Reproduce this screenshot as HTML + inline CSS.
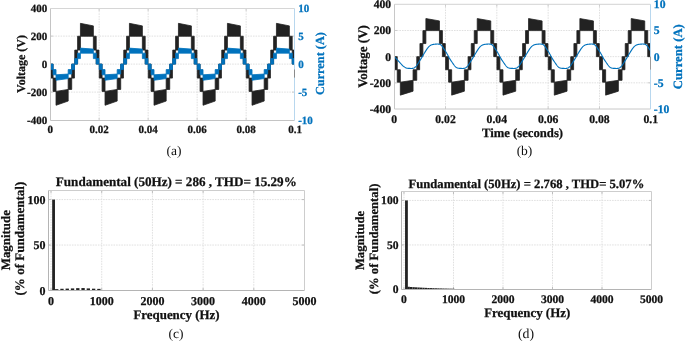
<!DOCTYPE html>
<html><head><meta charset="utf-8"><title>Figure</title>
<style>html,body{margin:0;padding:0;background:#fff;width:685px;height:342px;overflow:hidden;position:relative;font-family:"Liberation Serif",serif}</style>
</head><body>
<svg width="685" height="342" viewBox="0 0 685 342" style="position:absolute;left:0;top:0;will-change:transform;text-rendering:geometricPrecision">
<rect width="100%" height="100%" fill="#fff"/>
<g stroke="#e0e0e0" stroke-width="1" stroke-dasharray="1.6,1.0"><line x1="99.15" y1="8.1" x2="99.15" y2="120.1"/><line x1="148.15" y1="8.1" x2="148.15" y2="120.1"/><line x1="197.15" y1="8.1" x2="197.15" y2="120.1"/><line x1="246.15" y1="8.1" x2="246.15" y2="120.1"/><line x1="50.15" y1="92.1" x2="295.15" y2="92.1"/><line x1="50.15" y1="64.1" x2="295.15" y2="64.1"/><line x1="50.15" y1="36.1" x2="295.15" y2="36.1"/></g>
<path d="M99.15 120.5V118M99.15 8.5V11M148.15 120.5V118M148.15 8.5V11M197.15 120.5V118M197.15 8.5V11M246.15 120.5V118M246.15 8.5V11M50.5 92.1H53M294.5 92.1H292M50.5 64.1H53M294.5 64.1H292M50.5 36.1H53M294.5 36.1H292" stroke="#cdcdcd" stroke-width="1" fill="none"/>
<clipPath id="ca"><rect x="50.5" y="0" width="244" height="130"/></clipPath><g clip-path="url(#ca)">
<polygon points="44.37,50.1 47.21,50.1 47.21,36.24 44.37,36.24" fill="#222222" stroke="#222222" stroke-width="0.8"/>
<polygon points="47.21,64.1 49.95,64.1 49.95,50.1 47.21,50.1" fill="#222222" stroke="#222222" stroke-width="0.8"/>
<polygon points="74.75,64.1 77.59,64.1 77.59,50.1 74.75,50.1" fill="#222222" stroke="#222222" stroke-width="0.8"/>
<polygon points="77.59,50.1 80.43,50.1 80.43,36.24 77.59,36.24" fill="#222222" stroke="#222222" stroke-width="0.8"/>
<polygon points="80.43,36.24 93.37,36.24 93.37,25.88 80.43,23.36" fill="#222222" stroke="#222222" stroke-width="0.8"/>
<polygon points="93.37,50.1 96.21,50.1 96.21,36.24 93.37,36.24" fill="#222222" stroke="#222222" stroke-width="0.8"/>
<polygon points="96.21,64.1 98.95,64.1 98.95,50.1 96.21,50.1" fill="#222222" stroke="#222222" stroke-width="0.8"/>
<polygon points="50.25,64.1 53.09,64.1 53.09,78.1 50.25,78.1" fill="#222222" stroke="#222222" stroke-width="0.8"/>
<polygon points="53.09,78.1 56.03,78.1 56.03,91.4 53.09,91.4" fill="#222222" stroke="#222222" stroke-width="0.8"/>
<polygon points="56.03,91.4 68.18,89.44 68.18,101.06 56.03,105.26" fill="#222222" stroke="#222222" stroke-width="0.8"/>
<polygon points="68.18,78.1 71.71,78.1 71.71,89.44 68.18,89.44" fill="#222222" stroke="#222222" stroke-width="0.8"/>
<polygon points="71.71,64.1 74.45,64.1 74.45,78.1 71.71,78.1" fill="#222222" stroke="#222222" stroke-width="0.8"/>
<polygon points="123.75,64.1 126.59,64.1 126.59,50.1 123.75,50.1" fill="#222222" stroke="#222222" stroke-width="0.8"/>
<polygon points="126.59,50.1 129.43,50.1 129.43,36.24 126.59,36.24" fill="#222222" stroke="#222222" stroke-width="0.8"/>
<polygon points="129.43,36.24 142.37,36.24 142.37,25.88 129.43,23.36" fill="#222222" stroke="#222222" stroke-width="0.8"/>
<polygon points="142.37,50.1 145.21,50.1 145.21,36.24 142.37,36.24" fill="#222222" stroke="#222222" stroke-width="0.8"/>
<polygon points="145.21,64.1 147.95,64.1 147.95,50.1 145.21,50.1" fill="#222222" stroke="#222222" stroke-width="0.8"/>
<polygon points="99.25,64.1 102.09,64.1 102.09,78.1 99.25,78.1" fill="#222222" stroke="#222222" stroke-width="0.8"/>
<polygon points="102.09,78.1 105.03,78.1 105.03,91.4 102.09,91.4" fill="#222222" stroke="#222222" stroke-width="0.8"/>
<polygon points="105.03,91.4 117.18,89.44 117.18,101.06 105.03,105.26" fill="#222222" stroke="#222222" stroke-width="0.8"/>
<polygon points="117.18,78.1 120.71,78.1 120.71,89.44 117.18,89.44" fill="#222222" stroke="#222222" stroke-width="0.8"/>
<polygon points="120.71,64.1 123.45,64.1 123.45,78.1 120.71,78.1" fill="#222222" stroke="#222222" stroke-width="0.8"/>
<polygon points="172.75,64.1 175.59,64.1 175.59,50.1 172.75,50.1" fill="#222222" stroke="#222222" stroke-width="0.8"/>
<polygon points="175.59,50.1 178.43,50.1 178.43,36.24 175.59,36.24" fill="#222222" stroke="#222222" stroke-width="0.8"/>
<polygon points="178.43,36.24 191.37,36.24 191.37,25.88 178.43,23.36" fill="#222222" stroke="#222222" stroke-width="0.8"/>
<polygon points="191.37,50.1 194.21,50.1 194.21,36.24 191.37,36.24" fill="#222222" stroke="#222222" stroke-width="0.8"/>
<polygon points="194.21,64.1 196.95,64.1 196.95,50.1 194.21,50.1" fill="#222222" stroke="#222222" stroke-width="0.8"/>
<polygon points="148.25,64.1 151.09,64.1 151.09,78.1 148.25,78.1" fill="#222222" stroke="#222222" stroke-width="0.8"/>
<polygon points="151.09,78.1 154.03,78.1 154.03,91.4 151.09,91.4" fill="#222222" stroke="#222222" stroke-width="0.8"/>
<polygon points="154.03,91.4 166.18,89.44 166.18,101.06 154.03,105.26" fill="#222222" stroke="#222222" stroke-width="0.8"/>
<polygon points="166.18,78.1 169.71,78.1 169.71,89.44 166.18,89.44" fill="#222222" stroke="#222222" stroke-width="0.8"/>
<polygon points="169.71,64.1 172.45,64.1 172.45,78.1 169.71,78.1" fill="#222222" stroke="#222222" stroke-width="0.8"/>
<polygon points="221.75,64.1 224.59,64.1 224.59,50.1 221.75,50.1" fill="#222222" stroke="#222222" stroke-width="0.8"/>
<polygon points="224.59,50.1 227.43,50.1 227.43,36.24 224.59,36.24" fill="#222222" stroke="#222222" stroke-width="0.8"/>
<polygon points="227.43,36.24 240.37,36.24 240.37,25.88 227.43,23.36" fill="#222222" stroke="#222222" stroke-width="0.8"/>
<polygon points="240.37,50.1 243.21,50.1 243.21,36.24 240.37,36.24" fill="#222222" stroke="#222222" stroke-width="0.8"/>
<polygon points="243.21,64.1 245.95,64.1 245.95,50.1 243.21,50.1" fill="#222222" stroke="#222222" stroke-width="0.8"/>
<polygon points="197.25,64.1 200.09,64.1 200.09,78.1 197.25,78.1" fill="#222222" stroke="#222222" stroke-width="0.8"/>
<polygon points="200.09,78.1 203.03,78.1 203.03,91.4 200.09,91.4" fill="#222222" stroke="#222222" stroke-width="0.8"/>
<polygon points="203.03,91.4 215.18,89.44 215.18,101.06 203.03,105.26" fill="#222222" stroke="#222222" stroke-width="0.8"/>
<polygon points="215.18,78.1 218.71,78.1 218.71,89.44 215.18,89.44" fill="#222222" stroke="#222222" stroke-width="0.8"/>
<polygon points="218.71,64.1 221.45,64.1 221.45,78.1 218.71,78.1" fill="#222222" stroke="#222222" stroke-width="0.8"/>
<polygon points="270.75,64.1 273.59,64.1 273.59,50.1 270.75,50.1" fill="#222222" stroke="#222222" stroke-width="0.8"/>
<polygon points="273.59,50.1 276.43,50.1 276.43,36.24 273.59,36.24" fill="#222222" stroke="#222222" stroke-width="0.8"/>
<polygon points="276.43,36.24 289.37,36.24 289.37,25.88 276.43,23.36" fill="#222222" stroke="#222222" stroke-width="0.8"/>
<polygon points="289.37,50.1 292.21,50.1 292.21,36.24 289.37,36.24" fill="#222222" stroke="#222222" stroke-width="0.8"/>
<polygon points="292.21,64.1 294.95,64.1 294.95,50.1 292.21,50.1" fill="#222222" stroke="#222222" stroke-width="0.8"/>
<polygon points="246.25,64.1 249.09,64.1 249.09,78.1 246.25,78.1" fill="#222222" stroke="#222222" stroke-width="0.8"/>
<polygon points="249.09,78.1 252.03,78.1 252.03,91.4 249.09,91.4" fill="#222222" stroke="#222222" stroke-width="0.8"/>
<polygon points="252.03,91.4 264.18,89.44 264.18,101.06 252.03,105.26" fill="#222222" stroke="#222222" stroke-width="0.8"/>
<polygon points="264.18,78.1 267.71,78.1 267.71,89.44 264.18,89.44" fill="#222222" stroke="#222222" stroke-width="0.8"/>
<polygon points="267.71,64.1 270.45,64.1 270.45,78.1 267.71,78.1" fill="#222222" stroke="#222222" stroke-width="0.8"/>
<polygon points="295.25,64.1 298.09,64.1 298.09,78.1 295.25,78.1" fill="#222222" stroke="#222222" stroke-width="0.8"/>
<polygon points="298.09,78.1 301.03,78.1 301.03,91.4 298.09,91.4" fill="#222222" stroke="#222222" stroke-width="0.8"/>
<polygon points="44.37,58.61 47.21,58.61 47.21,53.17 44.37,53.17" fill="#0072BD" stroke="#0072BD" stroke-width="0.8"/>
<polygon points="47.21,64.1 49.95,64.1 49.95,58.61 47.21,58.61" fill="#0072BD" stroke="#0072BD" stroke-width="0.8"/>
<polygon points="74.75,64.1 77.59,64.1 77.59,58.61 74.75,58.61" fill="#0072BD" stroke="#0072BD" stroke-width="0.8"/>
<polygon points="77.59,58.61 80.43,58.61 80.43,53.17 77.59,53.17" fill="#0072BD" stroke="#0072BD" stroke-width="0.8"/>
<polygon points="80.43,53.17 93.37,53.17 93.37,49.11 80.43,48.12" fill="#0072BD" stroke="#0072BD" stroke-width="0.8"/>
<polygon points="93.37,58.61 96.21,58.61 96.21,53.17 93.37,53.17" fill="#0072BD" stroke="#0072BD" stroke-width="0.8"/>
<polygon points="96.21,64.1 98.95,64.1 98.95,58.61 96.21,58.61" fill="#0072BD" stroke="#0072BD" stroke-width="0.8"/>
<polygon points="50.25,64.1 53.09,64.1 53.09,69.59 50.25,69.59" fill="#0072BD" stroke="#0072BD" stroke-width="0.8"/>
<polygon points="53.09,69.59 56.03,69.59 56.03,74.81 53.09,74.81" fill="#0072BD" stroke="#0072BD" stroke-width="0.8"/>
<polygon points="56.03,74.81 68.18,74.04 68.18,78.59 56.03,80.24" fill="#0072BD" stroke="#0072BD" stroke-width="0.8"/>
<polygon points="68.18,69.59 71.71,69.59 71.71,74.04 68.18,74.04" fill="#0072BD" stroke="#0072BD" stroke-width="0.8"/>
<polygon points="71.71,64.1 74.45,64.1 74.45,69.59 71.71,69.59" fill="#0072BD" stroke="#0072BD" stroke-width="0.8"/>
<polygon points="123.75,64.1 126.59,64.1 126.59,58.61 123.75,58.61" fill="#0072BD" stroke="#0072BD" stroke-width="0.8"/>
<polygon points="126.59,58.61 129.43,58.61 129.43,53.17 126.59,53.17" fill="#0072BD" stroke="#0072BD" stroke-width="0.8"/>
<polygon points="129.43,53.17 142.37,53.17 142.37,49.11 129.43,48.12" fill="#0072BD" stroke="#0072BD" stroke-width="0.8"/>
<polygon points="142.37,58.61 145.21,58.61 145.21,53.17 142.37,53.17" fill="#0072BD" stroke="#0072BD" stroke-width="0.8"/>
<polygon points="145.21,64.1 147.95,64.1 147.95,58.61 145.21,58.61" fill="#0072BD" stroke="#0072BD" stroke-width="0.8"/>
<polygon points="99.25,64.1 102.09,64.1 102.09,69.59 99.25,69.59" fill="#0072BD" stroke="#0072BD" stroke-width="0.8"/>
<polygon points="102.09,69.59 105.03,69.59 105.03,74.81 102.09,74.81" fill="#0072BD" stroke="#0072BD" stroke-width="0.8"/>
<polygon points="105.03,74.81 117.18,74.04 117.18,78.59 105.03,80.24" fill="#0072BD" stroke="#0072BD" stroke-width="0.8"/>
<polygon points="117.18,69.59 120.71,69.59 120.71,74.04 117.18,74.04" fill="#0072BD" stroke="#0072BD" stroke-width="0.8"/>
<polygon points="120.71,64.1 123.45,64.1 123.45,69.59 120.71,69.59" fill="#0072BD" stroke="#0072BD" stroke-width="0.8"/>
<polygon points="172.75,64.1 175.59,64.1 175.59,58.61 172.75,58.61" fill="#0072BD" stroke="#0072BD" stroke-width="0.8"/>
<polygon points="175.59,58.61 178.43,58.61 178.43,53.17 175.59,53.17" fill="#0072BD" stroke="#0072BD" stroke-width="0.8"/>
<polygon points="178.43,53.17 191.37,53.17 191.37,49.11 178.43,48.12" fill="#0072BD" stroke="#0072BD" stroke-width="0.8"/>
<polygon points="191.37,58.61 194.21,58.61 194.21,53.17 191.37,53.17" fill="#0072BD" stroke="#0072BD" stroke-width="0.8"/>
<polygon points="194.21,64.1 196.95,64.1 196.95,58.61 194.21,58.61" fill="#0072BD" stroke="#0072BD" stroke-width="0.8"/>
<polygon points="148.25,64.1 151.09,64.1 151.09,69.59 148.25,69.59" fill="#0072BD" stroke="#0072BD" stroke-width="0.8"/>
<polygon points="151.09,69.59 154.03,69.59 154.03,74.81 151.09,74.81" fill="#0072BD" stroke="#0072BD" stroke-width="0.8"/>
<polygon points="154.03,74.81 166.18,74.04 166.18,78.59 154.03,80.24" fill="#0072BD" stroke="#0072BD" stroke-width="0.8"/>
<polygon points="166.18,69.59 169.71,69.59 169.71,74.04 166.18,74.04" fill="#0072BD" stroke="#0072BD" stroke-width="0.8"/>
<polygon points="169.71,64.1 172.45,64.1 172.45,69.59 169.71,69.59" fill="#0072BD" stroke="#0072BD" stroke-width="0.8"/>
<polygon points="221.75,64.1 224.59,64.1 224.59,58.61 221.75,58.61" fill="#0072BD" stroke="#0072BD" stroke-width="0.8"/>
<polygon points="224.59,58.61 227.43,58.61 227.43,53.17 224.59,53.17" fill="#0072BD" stroke="#0072BD" stroke-width="0.8"/>
<polygon points="227.43,53.17 240.37,53.17 240.37,49.11 227.43,48.12" fill="#0072BD" stroke="#0072BD" stroke-width="0.8"/>
<polygon points="240.37,58.61 243.21,58.61 243.21,53.17 240.37,53.17" fill="#0072BD" stroke="#0072BD" stroke-width="0.8"/>
<polygon points="243.21,64.1 245.95,64.1 245.95,58.61 243.21,58.61" fill="#0072BD" stroke="#0072BD" stroke-width="0.8"/>
<polygon points="197.25,64.1 200.09,64.1 200.09,69.59 197.25,69.59" fill="#0072BD" stroke="#0072BD" stroke-width="0.8"/>
<polygon points="200.09,69.59 203.03,69.59 203.03,74.81 200.09,74.81" fill="#0072BD" stroke="#0072BD" stroke-width="0.8"/>
<polygon points="203.03,74.81 215.18,74.04 215.18,78.59 203.03,80.24" fill="#0072BD" stroke="#0072BD" stroke-width="0.8"/>
<polygon points="215.18,69.59 218.71,69.59 218.71,74.04 215.18,74.04" fill="#0072BD" stroke="#0072BD" stroke-width="0.8"/>
<polygon points="218.71,64.1 221.45,64.1 221.45,69.59 218.71,69.59" fill="#0072BD" stroke="#0072BD" stroke-width="0.8"/>
<polygon points="270.75,64.1 273.59,64.1 273.59,58.61 270.75,58.61" fill="#0072BD" stroke="#0072BD" stroke-width="0.8"/>
<polygon points="273.59,58.61 276.43,58.61 276.43,53.17 273.59,53.17" fill="#0072BD" stroke="#0072BD" stroke-width="0.8"/>
<polygon points="276.43,53.17 289.37,53.17 289.37,49.11 276.43,48.12" fill="#0072BD" stroke="#0072BD" stroke-width="0.8"/>
<polygon points="289.37,58.61 292.21,58.61 292.21,53.17 289.37,53.17" fill="#0072BD" stroke="#0072BD" stroke-width="0.8"/>
<polygon points="292.21,64.1 294.95,64.1 294.95,58.61 292.21,58.61" fill="#0072BD" stroke="#0072BD" stroke-width="0.8"/>
<polygon points="246.25,64.1 249.09,64.1 249.09,69.59 246.25,69.59" fill="#0072BD" stroke="#0072BD" stroke-width="0.8"/>
<polygon points="249.09,69.59 252.03,69.59 252.03,74.81 249.09,74.81" fill="#0072BD" stroke="#0072BD" stroke-width="0.8"/>
<polygon points="252.03,74.81 264.18,74.04 264.18,78.59 252.03,80.24" fill="#0072BD" stroke="#0072BD" stroke-width="0.8"/>
<polygon points="264.18,69.59 267.71,69.59 267.71,74.04 264.18,74.04" fill="#0072BD" stroke="#0072BD" stroke-width="0.8"/>
<polygon points="267.71,64.1 270.45,64.1 270.45,69.59 267.71,69.59" fill="#0072BD" stroke="#0072BD" stroke-width="0.8"/>
<polygon points="295.25,64.1 298.09,64.1 298.09,69.59 295.25,69.59" fill="#0072BD" stroke="#0072BD" stroke-width="0.8"/>
<polygon points="298.09,69.59 301.03,69.59 301.03,74.81 298.09,74.81" fill="#0072BD" stroke="#0072BD" stroke-width="0.8"/>
</g>
<line x1="50.5" y1="8.5" x2="294.5" y2="8.5" stroke="#d6d6d6" stroke-width="1"/>
<path d="M50.5 8.5V120.5H294.5" stroke="#c4c4c4" stroke-width="1" fill="none"/>
<line x1="294.5" y1="8.5" x2="294.5" y2="120.5" stroke="#b8d7ee" stroke-width="1"/>
<line x1="294.5" y1="69.5" x2="294.5" y2="77.6" stroke="#8a8a8a" stroke-width="1"/>
<g stroke="#e0e0e0" stroke-width="1" stroke-dasharray="1.6,1.0"><line x1="445.5" y1="4.3" x2="445.5" y2="109"/><line x1="496.82" y1="4.3" x2="496.82" y2="109"/><line x1="548.15" y1="4.3" x2="548.15" y2="109"/><line x1="599.47" y1="4.3" x2="599.47" y2="109"/><line x1="394.17" y1="82.83" x2="650.8" y2="82.83"/><line x1="394.17" y1="56.65" x2="650.8" y2="56.65"/><line x1="394.17" y1="30.47" x2="650.8" y2="30.47"/></g>
<path d="M445.5 109V106.5M445.5 4.3V6.8M496.82 109V106.5M496.82 4.3V6.8M548.15 109V106.5M548.15 4.3V6.8M599.47 109V106.5M599.47 4.3V6.8M394.5 82.83H397M650.5 82.83H648M394.5 56.65H397M650.5 56.65H648M394.5 30.47H397M650.5 30.47H648" stroke="#cdcdcd" stroke-width="1" fill="none"/>
<clipPath id="cb"><rect x="394.5" y="0" width="256" height="130"/></clipPath><g clip-path="url(#cb)">
<polygon points="388.11,43.56 391.09,43.56 391.09,30.61 388.11,30.61" fill="#222222" stroke="#222222" stroke-width="0.8"/>
<polygon points="391.09,56.65 393.96,56.65 393.96,43.56 391.09,43.56" fill="#222222" stroke="#222222" stroke-width="0.8"/>
<polygon points="419.94,56.65 422.91,56.65 422.91,43.56 419.94,43.56" fill="#222222" stroke="#222222" stroke-width="0.8"/>
<polygon points="422.91,43.56 425.89,43.56 425.89,30.61 422.91,30.61" fill="#222222" stroke="#222222" stroke-width="0.8"/>
<polygon points="425.89,30.61 439.44,30.61 439.44,20.92 425.89,18.57" fill="#222222" stroke="#222222" stroke-width="0.8"/>
<polygon points="439.44,43.56 442.42,43.56 442.42,30.61 439.44,30.61" fill="#222222" stroke="#222222" stroke-width="0.8"/>
<polygon points="442.42,56.65 445.29,56.65 445.29,43.56 442.42,43.56" fill="#222222" stroke="#222222" stroke-width="0.8"/>
<polygon points="394.27,56.65 397.25,56.65 397.25,69.74 394.27,69.74" fill="#222222" stroke="#222222" stroke-width="0.8"/>
<polygon points="397.25,69.74 400.33,69.74 400.33,82.17 397.25,82.17" fill="#222222" stroke="#222222" stroke-width="0.8"/>
<polygon points="400.33,82.17 413.06,80.34 413.06,91.2 400.33,95.13" fill="#222222" stroke="#222222" stroke-width="0.8"/>
<polygon points="413.06,69.74 416.75,69.74 416.75,80.34 413.06,80.34" fill="#222222" stroke="#222222" stroke-width="0.8"/>
<polygon points="416.75,56.65 419.63,56.65 419.63,69.74 416.75,69.74" fill="#222222" stroke="#222222" stroke-width="0.8"/>
<polygon points="471.26,56.65 474.24,56.65 474.24,43.56 471.26,43.56" fill="#222222" stroke="#222222" stroke-width="0.8"/>
<polygon points="474.24,43.56 477.22,43.56 477.22,30.61 474.24,30.61" fill="#222222" stroke="#222222" stroke-width="0.8"/>
<polygon points="477.22,30.61 490.77,30.61 490.77,20.92 477.22,18.57" fill="#222222" stroke="#222222" stroke-width="0.8"/>
<polygon points="490.77,43.56 493.74,43.56 493.74,30.61 490.77,30.61" fill="#222222" stroke="#222222" stroke-width="0.8"/>
<polygon points="493.74,56.65 496.62,56.65 496.62,43.56 493.74,43.56" fill="#222222" stroke="#222222" stroke-width="0.8"/>
<polygon points="445.6,56.65 448.58,56.65 448.58,69.74 445.6,69.74" fill="#222222" stroke="#222222" stroke-width="0.8"/>
<polygon points="448.58,69.74 451.66,69.74 451.66,82.17 448.58,82.17" fill="#222222" stroke="#222222" stroke-width="0.8"/>
<polygon points="451.66,82.17 464.38,80.34 464.38,91.2 451.66,95.13" fill="#222222" stroke="#222222" stroke-width="0.8"/>
<polygon points="464.38,69.74 468.08,69.74 468.08,80.34 464.38,80.34" fill="#222222" stroke="#222222" stroke-width="0.8"/>
<polygon points="468.08,56.65 470.95,56.65 470.95,69.74 468.08,69.74" fill="#222222" stroke="#222222" stroke-width="0.8"/>
<polygon points="522.59,56.65 525.56,56.65 525.56,43.56 522.59,43.56" fill="#222222" stroke="#222222" stroke-width="0.8"/>
<polygon points="525.56,43.56 528.54,43.56 528.54,30.61 525.56,30.61" fill="#222222" stroke="#222222" stroke-width="0.8"/>
<polygon points="528.54,30.61 542.09,30.61 542.09,20.92 528.54,18.57" fill="#222222" stroke="#222222" stroke-width="0.8"/>
<polygon points="542.09,43.56 545.07,43.56 545.07,30.61 542.09,30.61" fill="#222222" stroke="#222222" stroke-width="0.8"/>
<polygon points="545.07,56.65 547.94,56.65 547.94,43.56 545.07,43.56" fill="#222222" stroke="#222222" stroke-width="0.8"/>
<polygon points="496.92,56.65 499.9,56.65 499.9,69.74 496.92,69.74" fill="#222222" stroke="#222222" stroke-width="0.8"/>
<polygon points="499.9,69.74 502.98,69.74 502.98,82.17 499.9,82.17" fill="#222222" stroke="#222222" stroke-width="0.8"/>
<polygon points="502.98,82.17 515.71,80.34 515.71,91.2 502.98,95.13" fill="#222222" stroke="#222222" stroke-width="0.8"/>
<polygon points="515.71,69.74 519.41,69.74 519.41,80.34 515.71,80.34" fill="#222222" stroke="#222222" stroke-width="0.8"/>
<polygon points="519.41,56.65 522.28,56.65 522.28,69.74 519.41,69.74" fill="#222222" stroke="#222222" stroke-width="0.8"/>
<polygon points="573.91,56.65 576.89,56.65 576.89,43.56 573.91,43.56" fill="#222222" stroke="#222222" stroke-width="0.8"/>
<polygon points="576.89,43.56 579.87,43.56 579.87,30.61 576.89,30.61" fill="#222222" stroke="#222222" stroke-width="0.8"/>
<polygon points="579.87,30.61 593.42,30.61 593.42,20.92 579.87,18.57" fill="#222222" stroke="#222222" stroke-width="0.8"/>
<polygon points="593.42,43.56 596.39,43.56 596.39,30.61 593.42,30.61" fill="#222222" stroke="#222222" stroke-width="0.8"/>
<polygon points="596.39,56.65 599.27,56.65 599.27,43.56 596.39,43.56" fill="#222222" stroke="#222222" stroke-width="0.8"/>
<polygon points="548.25,56.65 551.23,56.65 551.23,69.74 548.25,69.74" fill="#222222" stroke="#222222" stroke-width="0.8"/>
<polygon points="551.23,69.74 554.31,69.74 554.31,82.17 551.23,82.17" fill="#222222" stroke="#222222" stroke-width="0.8"/>
<polygon points="554.31,82.17 567.04,80.34 567.04,91.2 554.31,95.13" fill="#222222" stroke="#222222" stroke-width="0.8"/>
<polygon points="567.04,69.74 570.73,69.74 570.73,80.34 567.04,80.34" fill="#222222" stroke="#222222" stroke-width="0.8"/>
<polygon points="570.73,56.65 573.61,56.65 573.61,69.74 570.73,69.74" fill="#222222" stroke="#222222" stroke-width="0.8"/>
<polygon points="625.24,56.65 628.22,56.65 628.22,43.56 625.24,43.56" fill="#222222" stroke="#222222" stroke-width="0.8"/>
<polygon points="628.22,43.56 631.19,43.56 631.19,30.61 628.22,30.61" fill="#222222" stroke="#222222" stroke-width="0.8"/>
<polygon points="631.19,30.61 644.74,30.61 644.74,20.92 631.19,18.57" fill="#222222" stroke="#222222" stroke-width="0.8"/>
<polygon points="644.74,43.56 647.72,43.56 647.72,30.61 644.74,30.61" fill="#222222" stroke="#222222" stroke-width="0.8"/>
<polygon points="647.72,56.65 650.59,56.65 650.59,43.56 647.72,43.56" fill="#222222" stroke="#222222" stroke-width="0.8"/>
<polygon points="599.58,56.65 602.55,56.65 602.55,69.74 599.58,69.74" fill="#222222" stroke="#222222" stroke-width="0.8"/>
<polygon points="602.55,69.74 605.63,69.74 605.63,82.17 602.55,82.17" fill="#222222" stroke="#222222" stroke-width="0.8"/>
<polygon points="605.63,82.17 618.36,80.34 618.36,91.2 605.63,95.13" fill="#222222" stroke="#222222" stroke-width="0.8"/>
<polygon points="618.36,69.74 622.06,69.74 622.06,80.34 618.36,80.34" fill="#222222" stroke="#222222" stroke-width="0.8"/>
<polygon points="622.06,56.65 624.93,56.65 624.93,69.74 622.06,69.74" fill="#222222" stroke="#222222" stroke-width="0.8"/>
<polygon points="650.9,56.65 653.88,56.65 653.88,69.74 650.9,69.74" fill="#222222" stroke="#222222" stroke-width="0.8"/>
<polygon points="653.88,69.74 656.96,69.74 656.96,82.17 653.88,82.17" fill="#222222" stroke="#222222" stroke-width="0.8"/>
<path d="M394.17 56.39 L394.49 56.74 L394.81 57.09 L395.13 57.44 L395.45 57.78 L395.77 58.13 L396.09 58.48 L396.42 58.83 L396.74 59.18 L397.06 59.53 L397.38 59.88 L397.7 60.23 L398.02 60.58 L398.34 60.93 L398.66 61.27 L398.98 61.62 L399.3 61.97 L399.62 62.32 L399.94 62.68 L400.26 63.04 L400.59 63.4 L400.91 63.75 L401.23 64.11 L401.55 64.47 L401.87 64.82 L402.19 65.18 L402.51 65.54 L402.83 65.9 L403.15 66.13 L403.47 66.33 L403.79 66.54 L404.11 66.74 L404.44 66.94 L404.76 67.15 L405.08 67.35 L405.4 67.56 L405.72 67.76 L406.04 67.94 L406.36 68.05 L406.68 68.14 L407 68.2 L407.32 68.26 L407.64 68.3 L407.96 68.34 L408.28 68.36 L408.61 68.38 L408.93 68.39 L409.25 68.41 L409.57 68.41 L409.89 68.42 L410.21 68.42 L410.53 68.43 L410.85 68.43 L411.17 68.43 L411.49 68.43 L411.81 68.43 L412.13 68.41 L412.45 68.39 L412.78 68.35 L413.1 68.29 L413.42 68.2 L413.74 68.09 L414.06 67.94 L414.38 67.76 L414.7 67.55 L415.02 67.31 L415.34 67.03 L415.66 66.71 L415.98 66.36 L416.3 65.98 L416.63 65.57 L416.95 65.13 L417.27 64.67 L417.59 64.19 L417.91 63.7 L418.23 63.2 L418.55 62.69 L418.87 62.18 L419.19 61.66 L419.51 61.14 L419.83 60.63 L420.15 60.12 L420.47 59.62 L420.8 59.11 L421.12 58.61 L421.44 58.09 L421.76 57.57 L422.08 57.04 L422.4 56.5 L422.72 55.95 L423.04 55.39 L423.36 54.84 L423.68 54.28 L424 53.73 L424.32 53.19 L424.64 52.66 L424.97 52.13 L425.29 51.61 L425.61 51.1 L425.93 50.6 L426.25 50.11 L426.57 49.62 L426.89 49.14 L427.21 48.68 L427.53 48.24 L427.85 47.82 L428.17 47.42 L428.49 47.06 L428.82 46.72 L429.14 46.42 L429.46 46.14 L429.78 45.88 L430.1 45.66 L430.42 45.45 L430.74 45.27 L431.06 45.11 L431.38 44.96 L431.7 44.84 L432.02 44.72 L432.34 44.63 L432.66 44.54 L432.99 44.47 L433.31 44.4 L433.63 44.35 L433.95 44.3 L434.27 44.26 L434.59 44.23 L434.91 44.2 L435.23 44.17 L435.55 44.15 L435.87 44.13 L436.19 44.11 L436.51 44.09 L436.83 44.07 L437.16 44.07 L437.48 44.06 L437.8 44.07 L438.12 44.08 L438.44 44.1 L438.76 44.13 L439.08 44.17 L439.4 44.22 L439.72 44.3 L440.04 44.41 L440.36 44.56 L440.68 44.76 L441 45 L441.33 45.3 L441.65 45.64 L441.97 46.03 L442.29 46.45 L442.61 46.91 L442.93 47.39 L443.25 47.87 L443.57 48.37 L443.89 48.85 L444.21 49.34 L444.53 49.82 L444.85 50.3 L445.18 50.79 L445.5 51.28 L445.82 51.78 L446.14 52.29 L446.46 52.81 L446.78 53.35 L447.1 53.91 L447.42 54.49 L447.74 55.09 L448.06 55.7 L448.38 56.32 L448.7 56.92 L449.02 57.52 L449.35 58.09 L449.67 58.64 L449.99 59.17 L450.31 59.67 L450.63 60.15 L450.95 60.62 L451.27 61.09 L451.59 61.55 L451.91 62.01 L452.23 62.48 L452.55 62.95 L452.87 63.42 L453.19 63.88 L453.52 64.34 L453.84 64.79 L454.16 65.22 L454.48 65.63 L454.8 66.02 L455.12 66.39 L455.44 66.72 L455.76 67.02 L456.08 67.27 L456.4 67.49 L456.72 67.67 L457.04 67.82 L457.37 67.94 L457.69 68.05 L458.01 68.14 L458.33 68.2 L458.65 68.26 L458.97 68.3 L459.29 68.34 L459.61 68.36 L459.93 68.38 L460.25 68.39 L460.57 68.41 L460.89 68.41 L461.21 68.42 L461.54 68.42 L461.86 68.43 L462.18 68.43 L462.5 68.43 L462.82 68.43 L463.14 68.43 L463.46 68.41 L463.78 68.39 L464.1 68.35 L464.42 68.29 L464.74 68.2 L465.06 68.09 L465.38 67.94 L465.71 67.76 L466.03 67.55 L466.35 67.31 L466.67 67.03 L466.99 66.71 L467.31 66.36 L467.63 65.98 L467.95 65.57 L468.27 65.13 L468.59 64.67 L468.91 64.19 L469.23 63.7 L469.56 63.2 L469.88 62.69 L470.2 62.18 L470.52 61.66 L470.84 61.14 L471.16 60.63 L471.48 60.12 L471.8 59.62 L472.12 59.11 L472.44 58.61 L472.76 58.09 L473.08 57.57 L473.4 57.04 L473.73 56.5 L474.05 55.95 L474.37 55.39 L474.69 54.84 L475.01 54.28 L475.33 53.73 L475.65 53.19 L475.97 52.66 L476.29 52.13 L476.61 51.61 L476.93 51.1 L477.25 50.6 L477.57 50.11 L477.9 49.62 L478.22 49.14 L478.54 48.68 L478.86 48.24 L479.18 47.82 L479.5 47.42 L479.82 47.06 L480.14 46.72 L480.46 46.42 L480.78 46.14 L481.1 45.88 L481.42 45.66 L481.74 45.45 L482.07 45.27 L482.39 45.11 L482.71 44.96 L483.03 44.84 L483.35 44.72 L483.67 44.63 L483.99 44.54 L484.31 44.47 L484.63 44.4 L484.95 44.35 L485.27 44.3 L485.59 44.26 L485.92 44.23 L486.24 44.2 L486.56 44.17 L486.88 44.15 L487.2 44.13 L487.52 44.11 L487.84 44.09 L488.16 44.07 L488.48 44.07 L488.8 44.06 L489.12 44.07 L489.44 44.08 L489.76 44.1 L490.09 44.13 L490.41 44.17 L490.73 44.22 L491.05 44.3 L491.37 44.41 L491.69 44.56 L492.01 44.76 L492.33 45 L492.65 45.3 L492.97 45.64 L493.29 46.03 L493.61 46.45 L493.93 46.91 L494.26 47.39 L494.58 47.87 L494.9 48.37 L495.22 48.85 L495.54 49.34 L495.86 49.82 L496.18 50.3 L496.5 50.79 L496.82 51.28 L497.14 51.78 L497.46 52.29 L497.78 52.81 L498.11 53.35 L498.43 53.91 L498.75 54.49 L499.07 55.09 L499.39 55.7 L499.71 56.32 L500.03 56.92 L500.35 57.52 L500.67 58.09 L500.99 58.64 L501.31 59.17 L501.63 59.67 L501.95 60.15 L502.28 60.62 L502.6 61.09 L502.92 61.55 L503.24 62.01 L503.56 62.48 L503.88 62.95 L504.2 63.42 L504.52 63.88 L504.84 64.34 L505.16 64.79 L505.48 65.22 L505.8 65.63 L506.12 66.02 L506.45 66.39 L506.77 66.72 L507.09 67.02 L507.41 67.27 L507.73 67.49 L508.05 67.67 L508.37 67.82 L508.69 67.94 L509.01 68.05 L509.33 68.14 L509.65 68.2 L509.97 68.26 L510.3 68.3 L510.62 68.34 L510.94 68.36 L511.26 68.38 L511.58 68.39 L511.9 68.41 L512.22 68.41 L512.54 68.42 L512.86 68.42 L513.18 68.43 L513.5 68.43 L513.82 68.43 L514.14 68.43 L514.47 68.43 L514.79 68.41 L515.11 68.39 L515.43 68.35 L515.75 68.29 L516.07 68.2 L516.39 68.09 L516.71 67.94 L517.03 67.76 L517.35 67.55 L517.67 67.31 L517.99 67.03 L518.31 66.71 L518.64 66.36 L518.96 65.98 L519.28 65.57 L519.6 65.13 L519.92 64.67 L520.24 64.19 L520.56 63.7 L520.88 63.2 L521.2 62.69 L521.52 62.18 L521.84 61.66 L522.16 61.14 L522.49 60.63 L522.81 60.12 L523.13 59.62 L523.45 59.11 L523.77 58.61 L524.09 58.09 L524.41 57.57 L524.73 57.04 L525.05 56.5 L525.37 55.95 L525.69 55.39 L526.01 54.84 L526.33 54.28 L526.66 53.73 L526.98 53.19 L527.3 52.66 L527.62 52.13 L527.94 51.61 L528.26 51.1 L528.58 50.6 L528.9 50.11 L529.22 49.62 L529.54 49.14 L529.86 48.68 L530.18 48.24 L530.5 47.82 L530.83 47.42 L531.15 47.06 L531.47 46.72 L531.79 46.42 L532.11 46.14 L532.43 45.88 L532.75 45.66 L533.07 45.45 L533.39 45.27 L533.71 45.11 L534.03 44.96 L534.35 44.84 L534.67 44.72 L535 44.63 L535.32 44.54 L535.64 44.47 L535.96 44.4 L536.28 44.35 L536.6 44.3 L536.92 44.26 L537.24 44.23 L537.56 44.2 L537.88 44.17 L538.2 44.15 L538.52 44.13 L538.85 44.11 L539.17 44.09 L539.49 44.07 L539.81 44.07 L540.13 44.06 L540.45 44.07 L540.77 44.08 L541.09 44.1 L541.41 44.13 L541.73 44.17 L542.05 44.22 L542.37 44.3 L542.69 44.41 L543.02 44.56 L543.34 44.76 L543.66 45 L543.98 45.3 L544.3 45.64 L544.62 46.03 L544.94 46.45 L545.26 46.91 L545.58 47.39 L545.9 47.87 L546.22 48.37 L546.54 48.85 L546.86 49.34 L547.19 49.82 L547.51 50.3 L547.83 50.79 L548.15 51.28 L548.47 51.78 L548.79 52.29 L549.11 52.81 L549.43 53.35 L549.75 53.91 L550.07 54.49 L550.39 55.09 L550.71 55.7 L551.04 56.32 L551.36 56.92 L551.68 57.52 L552 58.09 L552.32 58.64 L552.64 59.17 L552.96 59.67 L553.28 60.15 L553.6 60.62 L553.92 61.09 L554.24 61.55 L554.56 62.01 L554.88 62.48 L555.21 62.95 L555.53 63.42 L555.85 63.88 L556.17 64.34 L556.49 64.79 L556.81 65.22 L557.13 65.63 L557.45 66.02 L557.77 66.39 L558.09 66.72 L558.41 67.02 L558.73 67.27 L559.05 67.49 L559.38 67.67 L559.7 67.82 L560.02 67.94 L560.34 68.05 L560.66 68.14 L560.98 68.2 L561.3 68.26 L561.62 68.3 L561.94 68.34 L562.26 68.36 L562.58 68.38 L562.9 68.39 L563.23 68.41 L563.55 68.41 L563.87 68.42 L564.19 68.42 L564.51 68.43 L564.83 68.43 L565.15 68.43 L565.47 68.43 L565.79 68.43 L566.11 68.41 L566.43 68.39 L566.75 68.35 L567.07 68.29 L567.4 68.2 L567.72 68.09 L568.04 67.94 L568.36 67.76 L568.68 67.55 L569 67.31 L569.32 67.03 L569.64 66.71 L569.96 66.36 L570.28 65.98 L570.6 65.57 L570.92 65.13 L571.24 64.67 L571.57 64.19 L571.89 63.7 L572.21 63.2 L572.53 62.69 L572.85 62.18 L573.17 61.66 L573.49 61.14 L573.81 60.63 L574.13 60.12 L574.45 59.62 L574.77 59.11 L575.09 58.61 L575.41 58.09 L575.74 57.57 L576.06 57.04 L576.38 56.5 L576.7 55.95 L577.02 55.39 L577.34 54.84 L577.66 54.28 L577.98 53.73 L578.3 53.19 L578.62 52.66 L578.94 52.13 L579.26 51.61 L579.59 51.1 L579.91 50.6 L580.23 50.11 L580.55 49.62 L580.87 49.14 L581.19 48.68 L581.51 48.24 L581.83 47.82 L582.15 47.42 L582.47 47.06 L582.79 46.72 L583.11 46.42 L583.43 46.14 L583.76 45.88 L584.08 45.66 L584.4 45.45 L584.72 45.27 L585.04 45.11 L585.36 44.96 L585.68 44.84 L586 44.72 L586.32 44.63 L586.64 44.54 L586.96 44.47 L587.28 44.4 L587.6 44.35 L587.93 44.3 L588.25 44.26 L588.57 44.23 L588.89 44.2 L589.21 44.17 L589.53 44.15 L589.85 44.13 L590.17 44.11 L590.49 44.09 L590.81 44.07 L591.13 44.07 L591.45 44.06 L591.78 44.07 L592.1 44.08 L592.42 44.1 L592.74 44.13 L593.06 44.17 L593.38 44.22 L593.7 44.3 L594.02 44.41 L594.34 44.56 L594.66 44.76 L594.98 45 L595.3 45.3 L595.62 45.64 L595.95 46.03 L596.27 46.45 L596.59 46.91 L596.91 47.39 L597.23 47.87 L597.55 48.37 L597.87 48.85 L598.19 49.34 L598.51 49.82 L598.83 50.3 L599.15 50.79 L599.47 51.28 L599.79 51.78 L600.12 52.29 L600.44 52.81 L600.76 53.35 L601.08 53.91 L601.4 54.49 L601.72 55.09 L602.04 55.7 L602.36 56.32 L602.68 56.92 L603 57.52 L603.32 58.09 L603.64 58.64 L603.97 59.17 L604.29 59.67 L604.61 60.15 L604.93 60.62 L605.25 61.09 L605.57 61.55 L605.89 62.01 L606.21 62.48 L606.53 62.95 L606.85 63.42 L607.17 63.88 L607.49 64.34 L607.81 64.79 L608.14 65.22 L608.46 65.63 L608.78 66.02 L609.1 66.39 L609.42 66.72 L609.74 67.02 L610.06 67.27 L610.38 67.49 L610.7 67.67 L611.02 67.82 L611.34 67.94 L611.66 68.05 L611.98 68.14 L612.31 68.2 L612.63 68.26 L612.95 68.3 L613.27 68.34 L613.59 68.36 L613.91 68.38 L614.23 68.39 L614.55 68.41 L614.87 68.41 L615.19 68.42 L615.51 68.42 L615.83 68.43 L616.15 68.43 L616.48 68.43 L616.8 68.43 L617.12 68.43 L617.44 68.41 L617.76 68.39 L618.08 68.35 L618.4 68.29 L618.72 68.2 L619.04 68.09 L619.36 67.94 L619.68 67.76 L620 67.55 L620.33 67.31 L620.65 67.03 L620.97 66.71 L621.29 66.36 L621.61 65.98 L621.93 65.57 L622.25 65.13 L622.57 64.67 L622.89 64.19 L623.21 63.7 L623.53 63.2 L623.85 62.69 L624.17 62.18 L624.5 61.66 L624.82 61.14 L625.14 60.63 L625.46 60.12 L625.78 59.62 L626.1 59.11 L626.42 58.61 L626.74 58.09 L627.06 57.57 L627.38 57.04 L627.7 56.5 L628.02 55.95 L628.34 55.39 L628.67 54.84 L628.99 54.28 L629.31 53.73 L629.63 53.19 L629.95 52.66 L630.27 52.13 L630.59 51.61 L630.91 51.1 L631.23 50.6 L631.55 50.11 L631.87 49.62 L632.19 49.14 L632.52 48.68 L632.84 48.24 L633.16 47.82 L633.48 47.42 L633.8 47.06 L634.12 46.72 L634.44 46.42 L634.76 46.14 L635.08 45.88 L635.4 45.66 L635.72 45.45 L636.04 45.27 L636.36 45.11 L636.69 44.96 L637.01 44.84 L637.33 44.72 L637.65 44.63 L637.97 44.54 L638.29 44.47 L638.61 44.4 L638.93 44.35 L639.25 44.3 L639.57 44.26 L639.89 44.23 L640.21 44.2 L640.53 44.17 L640.86 44.15 L641.18 44.13 L641.5 44.11 L641.82 44.09 L642.14 44.07 L642.46 44.07 L642.78 44.06 L643.1 44.07 L643.42 44.08 L643.74 44.1 L644.06 44.13 L644.38 44.17 L644.71 44.22 L645.03 44.3 L645.35 44.41 L645.67 44.56 L645.99 44.76 L646.31 45 L646.63 45.3 L646.95 45.64 L647.27 46.03 L647.59 46.45 L647.91 46.91 L648.23 47.39 L648.55 47.87 L648.88 48.37 L649.2 48.85 L649.52 49.34 L649.84 49.82 L650.16 50.3 L650.48 50.79 L650.8 51.28" stroke="#0072BD" stroke-width="1.1" fill="none" stroke-linejoin="round"/>
</g>
<line x1="394.5" y1="4.3" x2="650.5" y2="4.3" stroke="#d2d2d2" stroke-width="1"/>
<path d="M394.5 4.3V109H650.5" stroke="#c8c8c8" stroke-width="1" fill="none"/>
<line x1="650.5" y1="4.3" x2="650.5" y2="109" stroke="#b8d7ee" stroke-width="1"/>
<line x1="650.5" y1="56.6" x2="650.5" y2="69.6" stroke="#9a9a9a" stroke-width="1"/>
<g stroke="#e0e0e0" stroke-width="1" stroke-dasharray="1.6,1.0"><line x1="51.03" y1="190.5" x2="51.03" y2="290.5"/><line x1="101.73" y1="190.5" x2="101.73" y2="290.5"/><line x1="152.42" y1="190.5" x2="152.42" y2="290.5"/><line x1="203.11" y1="190.5" x2="203.11" y2="290.5"/><line x1="253.81" y1="190.5" x2="253.81" y2="290.5"/><line x1="48.5" y1="245.05" x2="304.5" y2="245.05"/><line x1="48.5" y1="199.59" x2="304.5" y2="199.59"/></g>
<path d="M51.03 290.5V288M51.03 190.5V193M101.73 290.5V288M101.73 190.5V193M152.42 290.5V288M152.42 190.5V193M203.11 290.5V288M203.11 190.5V193M253.81 290.5V288M253.81 190.5V193M48.5 245.05H51M304.5 245.05H302M48.5 199.59H51M304.5 199.59H302" stroke="#bdbdbd" stroke-width="1" fill="none"/>
<polygon points="52.17,290.5 54.97,290.5 54.97,199.59 52.17,199.59" fill="#222222"/>
<polygon points="55.04,290.5 58.39,290.5 58.39,289.14 55.04,289.14" fill="#222222"/>
<polygon points="60.31,290.5 63.66,290.5 63.66,288.77 60.31,288.77" fill="#222222"/>
<polygon points="65.58,290.5 68.93,290.5 68.93,288.59 65.58,288.59" fill="#222222"/>
<polygon points="70.86,290.5 74.2,290.5 74.2,288.41 70.86,288.41" fill="#222222"/>
<polygon points="76.13,290.5 79.47,290.5 79.47,288.14 76.13,288.14" fill="#222222"/>
<polygon points="81.4,290.5 84.75,290.5 84.75,288.05 81.4,288.05" fill="#222222"/>
<polygon points="86.67,290.5 90.02,290.5 90.02,288.41 86.67,288.41" fill="#222222"/>
<polygon points="91.94,290.5 95.29,290.5 95.29,288.68 91.94,288.68" fill="#222222"/>
<polygon points="97.22,290.5 100.56,290.5 100.56,288.86 97.22,288.86" fill="#222222"/>
<line x1="48.5" y1="190.5" x2="304.5" y2="190.5" stroke="#cdcdcd" stroke-width="1"/>
<path d="M48.5 190.5V290.5H304.5" stroke="#b4b4b4" stroke-width="1" fill="none"/>
<line x1="304.5" y1="190.5" x2="304.5" y2="290.5" stroke="#cdcdcd" stroke-width="1"/>
<g stroke="#e0e0e0" stroke-width="1" stroke-dasharray="1.6,1.0"><line x1="403.98" y1="191.5" x2="403.98" y2="289.5"/><line x1="453.48" y1="191.5" x2="453.48" y2="289.5"/><line x1="502.99" y1="191.5" x2="502.99" y2="289.5"/><line x1="552.49" y1="191.5" x2="552.49" y2="289.5"/><line x1="602" y1="191.5" x2="602" y2="289.5"/><line x1="401.5" y1="244.95" x2="651.5" y2="244.95"/><line x1="401.5" y1="200.41" x2="651.5" y2="200.41"/></g>
<path d="M403.98 289.5V287M403.98 191.5V194M453.48 289.5V287M453.48 191.5V194M502.99 289.5V287M502.99 191.5V194M552.49 289.5V287M552.49 191.5V194M602 289.5V287M602 191.5V194M401.5 244.95H404M651.5 244.95H649M401.5 200.41H404M651.5 200.41H649" stroke="#bdbdbd" stroke-width="1" fill="none"/>
<polygon points="405.05,289.5 407.85,289.5 407.85,200.41 405.05,200.41" fill="#222222"/>
<polygon points="407.49,289.5 409.87,289.5 409.87,286.78 407.49,286.78" fill="#222222"/>
<polygon points="409.97,289.5 412.34,289.5 412.34,286.97 409.97,286.97" fill="#222222"/>
<polygon points="412.44,289.5 414.82,289.5 414.82,287.15 412.44,287.15" fill="#222222"/>
<polygon points="414.92,289.5 417.29,289.5 417.29,287.32 414.92,287.32" fill="#222222"/>
<polygon points="417.39,289.5 419.77,289.5 419.77,287.47 417.39,287.47" fill="#222222"/>
<polygon points="419.87,289.5 422.24,289.5 422.24,287.61 419.87,287.61" fill="#222222"/>
<polygon points="422.34,289.5 424.72,289.5 424.72,287.74 422.34,287.74" fill="#222222"/>
<polygon points="424.82,289.5 427.19,289.5 427.19,287.86 424.82,287.86" fill="#222222"/>
<polygon points="427.29,289.5 429.67,289.5 429.67,287.97 427.29,287.97" fill="#222222"/>
<polygon points="429.77,289.5 432.14,289.5 432.14,288.07 429.77,288.07" fill="#222222"/>
<polygon points="432.24,289.5 434.62,289.5 434.62,288.17 432.24,288.17" fill="#222222"/>
<polygon points="434.72,289.5 437.09,289.5 437.09,288.26 434.72,288.26" fill="#222222"/>
<polygon points="437.19,289.5 439.57,289.5 439.57,288.34 437.19,288.34" fill="#222222"/>
<polygon points="439.67,289.5 442.04,289.5 442.04,288.42 439.67,288.42" fill="#222222"/>
<polygon points="442.14,289.5 444.52,289.5 444.52,288.49 442.14,288.49" fill="#222222"/>
<polygon points="444.62,289.5 447,289.5 447,288.55 444.62,288.55" fill="#222222"/>
<polygon points="447.09,289.5 449.47,289.5 449.47,288.61 447.09,288.61" fill="#222222"/>
<polygon points="449.57,289.5 451.95,289.5 451.95,288.67 449.57,288.67" fill="#222222"/>
<polygon points="452.04,289.5 454.42,289.5 454.42,288.72 452.04,288.72" fill="#222222"/>
<line x1="401.5" y1="191.5" x2="651.5" y2="191.5" stroke="#cdcdcd" stroke-width="1"/>
<path d="M401.5 191.5V289.5H651.5" stroke="#b4b4b4" stroke-width="1" fill="none"/>
<line x1="651.5" y1="191.5" x2="651.5" y2="289.5" stroke="#cdcdcd" stroke-width="1"/>
<text stroke="#111" stroke-width="0.25" x="47.15" y="11.84" font-family="'Liberation Serif', serif" font-size="11" font-weight="bold" fill="#111" text-anchor="end">400</text>
<text stroke="#111" stroke-width="0.25" x="47.15" y="39.84" font-family="'Liberation Serif', serif" font-size="11" font-weight="bold" fill="#111" text-anchor="end">200</text>
<text stroke="#111" stroke-width="0.25" x="47.15" y="67.84" font-family="'Liberation Serif', serif" font-size="11" font-weight="bold" fill="#111" text-anchor="end">0</text>
<text stroke="#111" stroke-width="0.25" x="47.15" y="95.84" font-family="'Liberation Serif', serif" font-size="11" font-weight="bold" fill="#111" text-anchor="end">-200</text>
<text stroke="#111" stroke-width="0.25" x="47.15" y="123.84" font-family="'Liberation Serif', serif" font-size="11" font-weight="bold" fill="#111" text-anchor="end">-400</text>
<text stroke="#0072BD" stroke-width="0.25" x="298.15" y="11.84" font-family="'Liberation Serif', serif" font-size="11" font-weight="bold" fill="#0072BD" text-anchor="start">10</text>
<text stroke="#0072BD" stroke-width="0.25" x="298.15" y="39.84" font-family="'Liberation Serif', serif" font-size="11" font-weight="bold" fill="#0072BD" text-anchor="start">5</text>
<text stroke="#0072BD" stroke-width="0.25" x="298.15" y="67.84" font-family="'Liberation Serif', serif" font-size="11" font-weight="bold" fill="#0072BD" text-anchor="start">0</text>
<text stroke="#0072BD" stroke-width="0.25" x="298.15" y="95.84" font-family="'Liberation Serif', serif" font-size="11" font-weight="bold" fill="#0072BD" text-anchor="start">-5</text>
<text stroke="#0072BD" stroke-width="0.25" x="298.15" y="123.84" font-family="'Liberation Serif', serif" font-size="11" font-weight="bold" fill="#0072BD" text-anchor="start">-10</text>
<text stroke="#111" stroke-width="0.25" x="50.15" y="132.7" font-family="'Liberation Serif', serif" font-size="11" font-weight="bold" fill="#111" text-anchor="middle">0</text>
<text stroke="#111" stroke-width="0.25" x="99.15" y="132.7" font-family="'Liberation Serif', serif" font-size="11" font-weight="bold" fill="#111" text-anchor="middle">0.02</text>
<text stroke="#111" stroke-width="0.25" x="148.15" y="132.7" font-family="'Liberation Serif', serif" font-size="11" font-weight="bold" fill="#111" text-anchor="middle">0.04</text>
<text stroke="#111" stroke-width="0.25" x="197.15" y="132.7" font-family="'Liberation Serif', serif" font-size="11" font-weight="bold" fill="#111" text-anchor="middle">0.06</text>
<text stroke="#111" stroke-width="0.25" x="246.15" y="132.7" font-family="'Liberation Serif', serif" font-size="11" font-weight="bold" fill="#111" text-anchor="middle">0.08</text>
<text stroke="#111" stroke-width="0.25" x="295.15" y="132.7" font-family="'Liberation Serif', serif" font-size="11" font-weight="bold" fill="#111" text-anchor="middle">0.1</text>
<text stroke="#111" stroke-width="0.25" x="0" y="0" transform="translate(24.9,64) rotate(-90)" font-family="'Liberation Serif', serif" font-size="12" font-weight="bold" fill="#111" text-anchor="middle">Voltage (V)</text>
<text stroke="#0072BD" stroke-width="0.25" x="0" y="0" transform="translate(324.4,63.6) rotate(-90)" font-family="'Liberation Serif', serif" font-size="12.3" font-weight="bold" fill="#0072BD" text-anchor="middle">Current (A)</text>
<text x="174" y="155" font-family="'Liberation Serif', serif" font-size="13.5" font-weight="normal" fill="#111" text-anchor="middle">(a)</text>
<text stroke="#111" stroke-width="0.25" x="391.17" y="8.28" font-family="'Liberation Serif', serif" font-size="11.7" font-weight="bold" fill="#111" text-anchor="end">400</text>
<text stroke="#111" stroke-width="0.25" x="391.17" y="34.45" font-family="'Liberation Serif', serif" font-size="11.7" font-weight="bold" fill="#111" text-anchor="end">200</text>
<text stroke="#111" stroke-width="0.25" x="391.17" y="60.63" font-family="'Liberation Serif', serif" font-size="11.7" font-weight="bold" fill="#111" text-anchor="end">0</text>
<text stroke="#111" stroke-width="0.25" x="391.17" y="86.8" font-family="'Liberation Serif', serif" font-size="11.7" font-weight="bold" fill="#111" text-anchor="end">-200</text>
<text stroke="#111" stroke-width="0.25" x="391.17" y="112.98" font-family="'Liberation Serif', serif" font-size="11.7" font-weight="bold" fill="#111" text-anchor="end">-400</text>
<text stroke="#0072BD" stroke-width="0.25" x="653.8" y="8.28" font-family="'Liberation Serif', serif" font-size="11.7" font-weight="bold" fill="#0072BD" text-anchor="start">10</text>
<text stroke="#0072BD" stroke-width="0.25" x="653.8" y="34.45" font-family="'Liberation Serif', serif" font-size="11.7" font-weight="bold" fill="#0072BD" text-anchor="start">5</text>
<text stroke="#0072BD" stroke-width="0.25" x="653.8" y="60.63" font-family="'Liberation Serif', serif" font-size="11.7" font-weight="bold" fill="#0072BD" text-anchor="start">0</text>
<text stroke="#0072BD" stroke-width="0.25" x="653.8" y="86.8" font-family="'Liberation Serif', serif" font-size="11.7" font-weight="bold" fill="#0072BD" text-anchor="start">-5</text>
<text stroke="#0072BD" stroke-width="0.25" x="653.8" y="112.98" font-family="'Liberation Serif', serif" font-size="11.7" font-weight="bold" fill="#0072BD" text-anchor="start">-10</text>
<text stroke="#111" stroke-width="0.25" x="394.17" y="123" font-family="'Liberation Serif', serif" font-size="11.7" font-weight="bold" fill="#111" text-anchor="middle">0</text>
<text stroke="#111" stroke-width="0.25" x="445.5" y="123" font-family="'Liberation Serif', serif" font-size="11.7" font-weight="bold" fill="#111" text-anchor="middle">0.02</text>
<text stroke="#111" stroke-width="0.25" x="496.82" y="123" font-family="'Liberation Serif', serif" font-size="11.7" font-weight="bold" fill="#111" text-anchor="middle">0.04</text>
<text stroke="#111" stroke-width="0.25" x="548.15" y="123" font-family="'Liberation Serif', serif" font-size="11.7" font-weight="bold" fill="#111" text-anchor="middle">0.06</text>
<text stroke="#111" stroke-width="0.25" x="599.47" y="123" font-family="'Liberation Serif', serif" font-size="11.7" font-weight="bold" fill="#111" text-anchor="middle">0.08</text>
<text stroke="#111" stroke-width="0.25" x="650.8" y="123" font-family="'Liberation Serif', serif" font-size="11.7" font-weight="bold" fill="#111" text-anchor="middle">0.1</text>
<text stroke="#111" stroke-width="0.25" x="522.5" y="137" font-family="'Liberation Serif', serif" font-size="12.7" font-weight="bold" fill="#111" text-anchor="middle">Time (seconds)</text>
<text stroke="#111" stroke-width="0.25" x="0" y="0" transform="translate(366.6,56.5) rotate(-90)" font-family="'Liberation Serif', serif" font-size="13" font-weight="bold" fill="#111" text-anchor="middle">Voltage (V)</text>
<text stroke="#0072BD" stroke-width="0.25" x="0" y="0" transform="translate(682.2,56.7) rotate(-90)" font-family="'Liberation Serif', serif" font-size="12.7" font-weight="bold" fill="#0072BD" text-anchor="middle">Current (A)</text>
<text x="524.5" y="155" font-family="'Liberation Serif', serif" font-size="13.5" font-weight="normal" fill="#111" text-anchor="middle">(b)</text>
<text stroke="#111" stroke-width="0.25" x="45.5" y="294.58" font-family="'Liberation Serif', serif" font-size="12" font-weight="bold" fill="#111" text-anchor="end">0</text>
<text stroke="#111" stroke-width="0.25" x="45.5" y="249.13" font-family="'Liberation Serif', serif" font-size="12" font-weight="bold" fill="#111" text-anchor="end">50</text>
<text stroke="#111" stroke-width="0.25" x="45.5" y="203.67" font-family="'Liberation Serif', serif" font-size="12" font-weight="bold" fill="#111" text-anchor="end">100</text>
<text stroke="#111" stroke-width="0.25" x="51.03" y="304.5" font-family="'Liberation Serif', serif" font-size="12" font-weight="bold" fill="#111" text-anchor="middle">0</text>
<text stroke="#111" stroke-width="0.25" x="101.73" y="304.5" font-family="'Liberation Serif', serif" font-size="12" font-weight="bold" fill="#111" text-anchor="middle">1000</text>
<text stroke="#111" stroke-width="0.25" x="152.42" y="304.5" font-family="'Liberation Serif', serif" font-size="12" font-weight="bold" fill="#111" text-anchor="middle">2000</text>
<text stroke="#111" stroke-width="0.25" x="203.11" y="304.5" font-family="'Liberation Serif', serif" font-size="12" font-weight="bold" fill="#111" text-anchor="middle">3000</text>
<text stroke="#111" stroke-width="0.25" x="253.81" y="304.5" font-family="'Liberation Serif', serif" font-size="12" font-weight="bold" fill="#111" text-anchor="middle">4000</text>
<text stroke="#111" stroke-width="0.25" x="304.5" y="304.5" font-family="'Liberation Serif', serif" font-size="12" font-weight="bold" fill="#111" text-anchor="middle">5000</text>
<text stroke="#111" stroke-width="0.25" x="176.3" y="186" font-family="'Liberation Serif', serif" font-size="13.1" font-weight="bold" fill="#111" text-anchor="middle">Fundamental (50Hz) = 286 , THD= 15.29%</text>
<text stroke="#111" stroke-width="0.25" x="176.5" y="318.6" font-family="'Liberation Serif', serif" font-size="12.9" font-weight="bold" fill="#111" text-anchor="middle">Frequency (Hz)</text>
<text stroke="#111" stroke-width="0.25" x="0" y="0" transform="translate(9.9,240.2) rotate(-90)" font-family="'Liberation Serif', serif" font-size="12.9" font-weight="bold" fill="#111" text-anchor="middle">Magnitude</text>
<text stroke="#111" stroke-width="0.25" x="0" y="0" transform="translate(23.8,238.6) rotate(-90)" font-family="'Liberation Serif', serif" font-size="13.05" font-weight="bold" fill="#111" text-anchor="middle">(% of Fundamental)</text>
<text x="176" y="338" font-family="'Liberation Serif', serif" font-size="13.5" font-weight="normal" fill="#111" text-anchor="middle">(c)</text>
<text stroke="#111" stroke-width="0.25" x="398.5" y="293.44" font-family="'Liberation Serif', serif" font-size="11.6" font-weight="bold" fill="#111" text-anchor="end">0</text>
<text stroke="#111" stroke-width="0.25" x="398.5" y="248.9" font-family="'Liberation Serif', serif" font-size="11.6" font-weight="bold" fill="#111" text-anchor="end">50</text>
<text stroke="#111" stroke-width="0.25" x="398.5" y="204.35" font-family="'Liberation Serif', serif" font-size="11.6" font-weight="bold" fill="#111" text-anchor="end">100</text>
<text stroke="#111" stroke-width="0.25" x="403.98" y="303" font-family="'Liberation Serif', serif" font-size="11.6" font-weight="bold" fill="#111" text-anchor="middle">0</text>
<text stroke="#111" stroke-width="0.25" x="453.48" y="303" font-family="'Liberation Serif', serif" font-size="11.6" font-weight="bold" fill="#111" text-anchor="middle">1000</text>
<text stroke="#111" stroke-width="0.25" x="502.99" y="303" font-family="'Liberation Serif', serif" font-size="11.6" font-weight="bold" fill="#111" text-anchor="middle">2000</text>
<text stroke="#111" stroke-width="0.25" x="552.49" y="303" font-family="'Liberation Serif', serif" font-size="11.6" font-weight="bold" fill="#111" text-anchor="middle">3000</text>
<text stroke="#111" stroke-width="0.25" x="602" y="303" font-family="'Liberation Serif', serif" font-size="11.6" font-weight="bold" fill="#111" text-anchor="middle">4000</text>
<text stroke="#111" stroke-width="0.25" x="651.5" y="303" font-family="'Liberation Serif', serif" font-size="11.6" font-weight="bold" fill="#111" text-anchor="middle">5000</text>
<text stroke="#111" stroke-width="0.25" x="526.45" y="187.9" font-family="'Liberation Serif', serif" font-size="12.65" font-weight="bold" fill="#111" text-anchor="middle">Fundamental (50Hz) = 2.768 , THD= 5.07%</text>
<text stroke="#111" stroke-width="0.25" x="527.2" y="317.3" font-family="'Liberation Serif', serif" font-size="12.9" font-weight="bold" fill="#111" text-anchor="middle">Frequency (Hz)</text>
<text stroke="#111" stroke-width="0.25" x="0" y="0" transform="translate(364.2,240.5) rotate(-90)" font-family="'Liberation Serif', serif" font-size="12.7" font-weight="bold" fill="#111" text-anchor="middle">Magnitude</text>
<text stroke="#111" stroke-width="0.25" x="0" y="0" transform="translate(378.2,238.9) rotate(-90)" font-family="'Liberation Serif', serif" font-size="12.7" font-weight="bold" fill="#111" text-anchor="middle">(% of Fundamental)</text>
<text x="526" y="338" font-family="'Liberation Serif', serif" font-size="13.8" font-weight="normal" fill="#111" text-anchor="middle">(d)</text>
</svg>
</body></html>
